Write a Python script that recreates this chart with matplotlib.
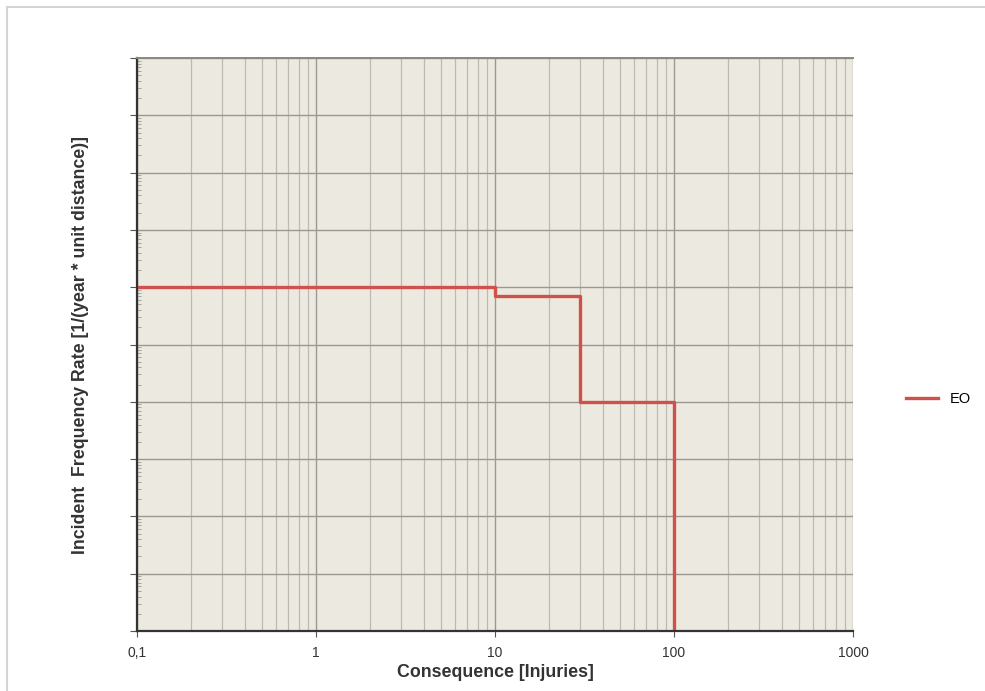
import matplotlib.pyplot as plt
from matplotlib.patches import Rectangle
from matplotlib.ticker import LogLocator, NullFormatter, FixedLocator, FixedFormatter

plt.rcParams["font.family"] = ["Liberation Sans", "DejaVu Sans"]

# step data (consequence edges, frequency levels)
consequence = [0.1, 10, 30, 100]
frequency = [1e-4, 7e-5, 1e-6, 1e-10]
series_name = "EO"

x_ticks = [0.1, 1, 10, 100, 1000]
x_labels = ["0,1", "1", "10", "100", "1000"]

fig = plt.figure(figsize=(9.85, 6.91), dpi=100)
fig.patch.set_facecolor("white")

# light frame round the whole picture
fig.patches.append(Rectangle((7 / 985, -0.01), 1.0, 1 - 7 / 691 + 0.01,
                             transform=fig.transFigure, fill=False,
                             edgecolor="#d4d4d4", linewidth=1.5))

ax = fig.add_axes([137 / 985, 60 / 691, 716 / 985, 573 / 691])
ax.set_facecolor("#ece9e0")

ax.step(consequence, frequency, where="post", color="#d0504a", linewidth=2.4,
        label=series_name)

ax.set_xscale("log")
ax.set_yscale("log")
ax.set_xlim(0.1, 1000)
ax.set_ylim(1e-10, 1)

ax.xaxis.set_major_locator(FixedLocator(x_ticks))
ax.xaxis.set_major_formatter(FixedFormatter(x_labels))
ax.xaxis.set_minor_locator(LogLocator(base=10, subs=range(2, 10)))
ax.xaxis.set_minor_formatter(NullFormatter())

ax.yaxis.set_major_locator(LogLocator(base=10, numticks=20))
ax.yaxis.set_minor_locator(LogLocator(base=10, subs=range(2, 10), numticks=20))
ax.yaxis.set_major_formatter(NullFormatter())
ax.yaxis.set_minor_formatter(NullFormatter())

ax.grid(True, which="major", axis="both", color="#9a9890", linewidth=1.0)
ax.grid(True, which="minor", axis="x", color="#bcbab2", linewidth=0.9)
ax.set_axisbelow(True)

ax.tick_params(axis="x", which="major", length=4, color="#555555",
               labelsize=10, labelcolor="#333333", pad=7)
ax.tick_params(axis="x", which="minor", length=0)
ax.tick_params(axis="y", which="major", length=5, color="#555555")
ax.tick_params(axis="y", which="minor", direction="in", length=3, color="#999999")

for side in ["left", "bottom"]:
    ax.spines[side].set_color("#333333")
    ax.spines[side].set_linewidth(1.6)
ax.spines["top"].set_color("#8a8880")
ax.spines["top"].set_linewidth(1.4)
ax.spines["right"].set_visible(False)

ax.set_xlabel("Consequence [Injuries]", fontsize=12.8, fontweight="bold",
              color="#333333", labelpad=3)
ax.set_ylabel("Incident  Frequency Rate [1/(year * unit distance)]", fontsize=12.8,
              fontweight="bold", color="#333333", labelpad=26)

ax.legend(loc="center left", bbox_to_anchor=(1.055, 0.405), frameon=False,
          fontsize=10.5, handlelength=2.2, handletextpad=0.8)

plt.savefig("out.png", dpi=100)
